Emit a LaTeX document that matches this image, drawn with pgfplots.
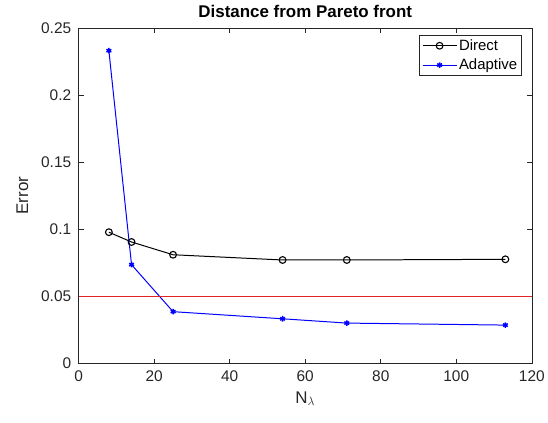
\documentclass[border=0pt]{standalone}
\usepackage{pgfplots}
\pgfplotsset{compat=1.18}
\usepackage{fontspec}
\setmainfont{Liberation Sans}
\definecolor{axgray}{RGB}{38,38,38}
\definecolor{refline}{RGB}{225,35,35}
\begin{document}
\begin{tikzpicture}
\begin{axis}[
  scale only axis,
  width=455pt, height=337pt,
  xmin=0, xmax=120, ymin=0, ymax=0.25,
  xtick={0,20,...,120},
  ytick={0,0.05,0.1,0.15,0.2,0.25},
  yticklabels={0,0.05,0.1,0.15,0.2,0.25},
  tick align=inside,
  tick pos=both,
  major tick length=5pt,
  axis line style={axgray, line width=0.6pt},
  tick style={axgray, line width=0.6pt},
  /pgf/number format/assume math mode=true,
  ticklabel style={font=\fontsize{15.5}{17}\selectfont, text=axgray},
  xticklabel style={yshift=-4pt},
  yticklabel style={xshift=-4pt},
  xlabel={N$_{\lambda}$},
  ylabel={Error},
  label style={font=\fontsize{17}{19}\selectfont, text=axgray},
  title={\textbf{Distance from Pareto front}},
  title style={font=\fontsize{17}{19}\selectfont, yshift=1pt},
  xlabel style={yshift=-3pt},
  ylabel style={yshift=6pt},
  legend style={at={(0.978,0.979)}, anchor=north east, font=\fontsize{15}{17}\selectfont, draw=axgray, inner sep=2.5pt, row sep=3pt, cells={anchor=west}},
  legend image code/.code={\draw[mark repeat=2,mark phase=2] plot coordinates {(0pt,0pt) (17pt,0pt) (34pt,0pt)};},
  legend cell align=left,
]
\addplot[black, line width=1pt, mark=o, mark size=3.4pt, mark options={solid, line width=1.1pt}] coordinates {
(8,0.0978) (14,0.0905) (25,0.0810) (54,0.0771) (71,0.0771) (113,0.0776)};
\addlegendentry{Direct}
\addplot[blue, line width=1pt, mark=asterisk, mark size=2.8pt, mark options={solid, line width=1.5pt}] coordinates {
(8,0.2330) (14,0.0736) (25,0.0386) (54,0.0333) (71,0.0301) (113,0.0286)};
\addlegendentry{Adaptive}
\addplot[refline, line width=0.7pt, forget plot] coordinates {(0,0.05) (120,0.05)};
\end{axis}
\useasboundingbox ([shift={(-79pt,-59pt)}]current axis.south west) rectangle ([shift={(14pt,28pt)}]current axis.north east);
\end{tikzpicture}
\end{document}
